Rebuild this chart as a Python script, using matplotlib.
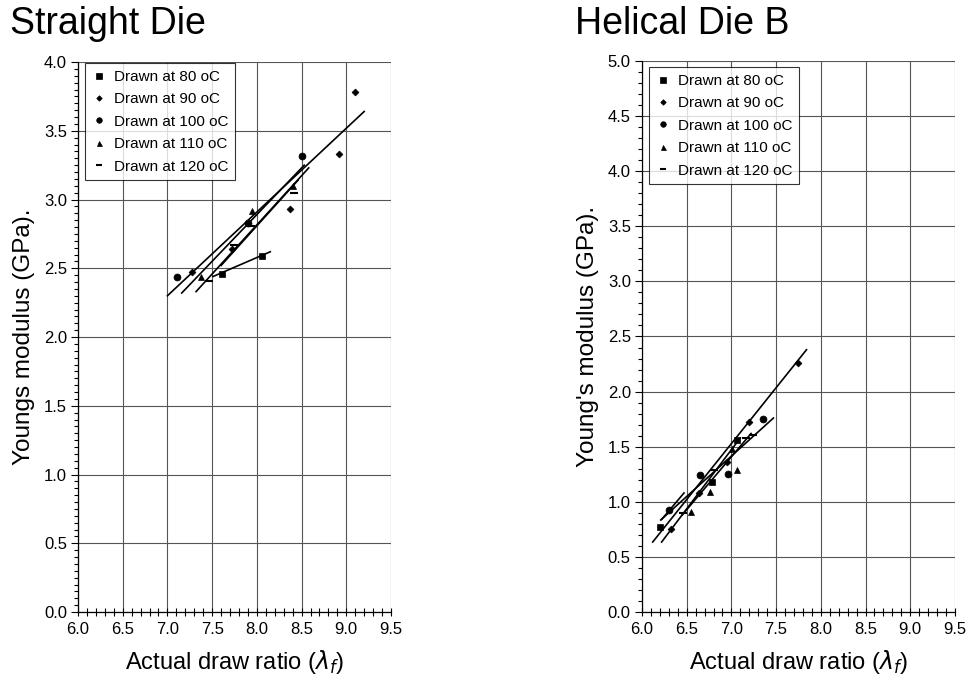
import matplotlib
matplotlib.use("Agg")
import matplotlib.pyplot as plt
import numpy as np
from matplotlib.ticker import MultipleLocator

plt.rcParams['font.family'] = ['Liberation Sans', 'DejaVu Sans']

series_labels = ["Drawn at 80 oC", "Drawn at 90 oC", "Drawn at 100 oC", "Drawn at 110 oC", "Drawn at 120 oC"]
markers = ["s", "D", "o", "^", "_"]
marker_sizes = [5, 3.5, 5, 4.5, 6]

# ---- Straight Die data ----
sd_x = [
    [7.61, 8.06],
    [7.27, 7.72, 8.37, 8.92, 9.10],
    [7.11, 7.90, 8.50],
    [7.38, 7.95, 8.40],
    [7.46, 7.74, 7.94, 8.42],
]
sd_y = [
    [2.46, 2.59],
    [2.47, 2.64, 2.93, 3.33, 3.78],
    [2.44, 2.83, 3.32],
    [2.44, 2.92, 3.10],
    [2.41, 2.67, 2.81, 3.05],
]
# trend lines: (x_start, x_end, y_start, y_end)
sd_fit_x0 = [7.51, 7.00, 7.16, 7.32, 7.60]
sd_fit_x1 = [8.15, 9.20, 8.53, 8.58, 8.46]
sd_fit_y0 = [2.44, 2.30, 2.32, 2.33, 2.52]
sd_fit_y1 = [2.62, 3.64, 3.25, 3.23, 3.14]

# ---- Helical Die B data ----
hd_x = [
    [6.20, 6.78, 7.06],
    [6.33, 6.64, 6.95, 7.20, 7.74],
    [6.30, 6.65, 6.96, 7.35],
    [6.55, 6.76, 7.06, 7.01],
    [6.46, 6.81, 7.16, 7.24],
]
hd_y = [
    [0.77, 1.18, 1.56],
    [0.75, 1.08, 1.36, 1.72, 2.26],
    [0.93, 1.24, 1.25, 1.75],
    [0.91, 1.09, 1.29, 1.48],
    [0.90, 1.29, 1.58, 1.61],
]
hd_fit_x0 = [6.22, 6.12, 6.21, 6.22, 6.45]
hd_fit_x1 = [6.47, 7.84, 7.47, 7.10, 7.22]
hd_fit_y0 = [0.84, 0.635, 0.835, 0.635, 0.88]
hd_fit_y1 = [1.08, 2.38, 1.76, 1.58, 1.62]

x_ticks = [6.0, 6.5, 7.0, 7.5, 8.0, 8.5, 9.0, 9.5]

fig = plt.figure(figsize=(9.69, 6.80), dpi=100)

def draw(ax, xs, ys, fx0, fx1, fy0, fy1, ymax, yminor, title, ylabel, title_x, leg_top):
    ax.set_xlim(6.0, 9.5)
    ax.set_ylim(0.0, ymax)
    ax.set_xticks(x_ticks)
    ax.set_xticklabels([f"{v:.1f}" for v in x_ticks])
    ax.yaxis.set_major_locator(MultipleLocator(0.5))
    ax.yaxis.set_major_formatter(matplotlib.ticker.FormatStrFormatter('%.1f'))
    ax.xaxis.set_minor_locator(MultipleLocator(0.1))
    ax.yaxis.set_minor_locator(MultipleLocator(yminor))
    ax.grid(True, which='major', color='#555555', linewidth=0.8)
    ax.tick_params(axis='x', which='minor', direction='inout', length=6, width=0.8)
    ax.tick_params(axis='x', which='major', direction='inout', length=6, width=0.8, labelsize=12, pad=4)
    ax.tick_params(axis='y', which='minor', direction='out', length=3, width=0.8)
    ax.tick_params(axis='y', which='major', direction='out', length=5, width=0.8, labelsize=12, pad=3)
    for s in ['top', 'right']:
        ax.spines[s].set_visible(False)
    for s in ['left', 'bottom']:
        ax.spines[s].set_linewidth(0.9)
    handles = []
    for i in range(5):
        h = ax.plot(xs[i], ys[i], linestyle='none', marker=markers[i], color='black',
                    markersize=marker_sizes[i], markeredgewidth=1.5 if markers[i] == '_' else 0.5,
                    label=series_labels[i], zorder=4)[0]
        handles.append(h)
        ax.plot([fx0[i], fx1[i]], [fy0[i], fy1[i]], color='black', linewidth=1.2, zorder=3)
    leg = ax.legend(handles=handles, loc='upper left', bbox_to_anchor=(0.022, leg_top),
                    borderaxespad=0.0,
                    fontsize=11, frameon=True, fancybox=False, edgecolor='black',
                    handlelength=1.0, handletextpad=0.45, labelspacing=0.55,
                    borderpad=0.45, markerscale=0.8)
    leg.get_frame().set_linewidth(0.8)
    ax.set_xlabel("Actual draw ratio ($\\lambda_f$)", fontsize=17, labelpad=8)
    ax.set_ylabel(ylabel, fontsize=17.5, labelpad=6)
    fig.text(title_x, 0.965, title, fontsize=27, ha='left', va='center')

ax1 = fig.add_axes([0.0805, 0.1, 0.323, 0.8088])
draw(ax1, sd_x, sd_y, sd_fit_x0, sd_fit_x1, sd_fit_y0, sd_fit_y1, 4.0, 0.05,
     "Straight Die", "Youngs modulus (GPa).", 0.010, 0.998)

ax2 = fig.add_axes([0.6625, 0.1, 0.323, 0.8103])
draw(ax2, hd_x, hd_y, hd_fit_x0, hd_fit_x1, hd_fit_y0, hd_fit_y1, 5.0, 0.1,
     "Helical Die B", "Young's modulus (GPa).", 0.593, 0.989)

fig.savefig("out.png", dpi=100)
